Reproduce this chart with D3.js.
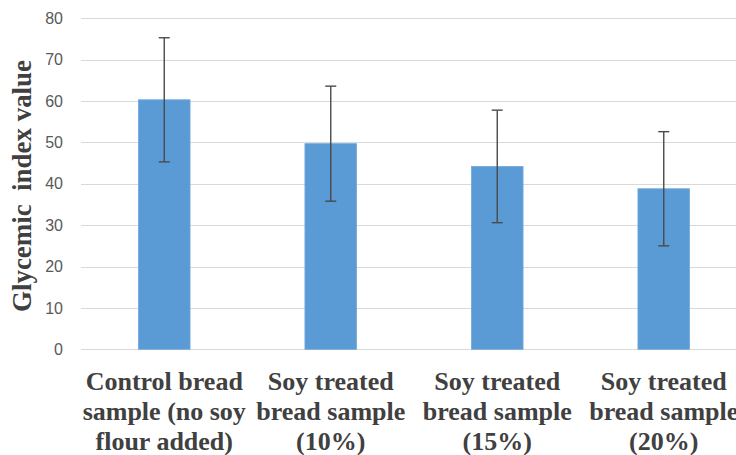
<!DOCTYPE html>
<html><head><meta charset="utf-8">
<script src="https://cdn.jsdelivr.net/npm/d3@7"></script>
<style>body{margin:0;background:#fff}svg{display:block}</style>
</head><body>
<svg id="c" width="736" height="455"></svg>
<script>
const categories = [
  ["Control bread","sample (no soy","flour added)"],
  ["Soy treated","bread sample","(10%)"],
  ["Soy treated","bread sample","(15%)"],
  ["Soy treated","bread sample","(20%)"]
];
const values = [60.3, 49.7, 44.2, 38.8];
const errors = [15.0, 13.9, 13.6, 13.8];
const yTicks = [0,10,20,30,40,50,60,70,80];
const yTitle = "Glycemic  index value";

const svg = d3.select("#c");
const x = d3.scaleBand().domain(d3.range(categories.length)).range([81, 747]).paddingInner(0.69).paddingOuter(0.345);
const y = d3.scaleLinear().domain([0, 80]).range([349.3, 18.3]);

// gridlines
svg.append("g").selectAll("line").data(yTicks).join("line")
  .attr("x1", 81).attr("x2", 736)
  .attr("y1", d => Math.round(y(d)) + 0.5).attr("y2", d => Math.round(y(d)) + 0.5)
  .attr("stroke", "#d9d9d9").attr("stroke-width", 1);

// y axis labels
const yAxis = d3.axisLeft(y).tickValues(yTicks).tickSize(0).tickPadding(0);
const gy = svg.append("g").attr("transform", "translate(63,0)").call(yAxis);
gy.select(".domain").remove();
gy.selectAll("text").attr("font-family", "Liberation Sans, Arial, sans-serif").attr("font-size", 16).attr("fill", "#595959");

// bars
svg.append("g").selectAll("rect").data(values).join("rect")
  .attr("x", (d,i) => x(i)).attr("width", x.bandwidth())
  .attr("y", d => y(d)).attr("height", d => y(0) - y(d))
  .attr("fill", "#5b9bd5").attr("stroke", "#6fa8dc").attr("stroke-width", 0.8);

// error bars
const eg = svg.append("g").attr("stroke", "#4a4a4a").attr("stroke-width", 1.4);
values.forEach((v, i) => {
  const cx = x(i) + x.bandwidth()/2;
  eg.append("line").attr("x1", cx).attr("x2", cx).attr("y1", y(v + errors[i])).attr("y2", y(v - errors[i]));
  eg.append("line").attr("x1", cx - 5.5).attr("x2", cx + 5.5).attr("y1", y(v + errors[i])).attr("y2", y(v + errors[i]));
  eg.append("line").attr("x1", cx - 5.5).attr("x2", cx + 5.5).attr("y1", y(v - errors[i])).attr("y2", y(v - errors[i]));
});

// category labels
const xl = svg.append("g");
categories.forEach((lines, i) => {
  const cx = x(i) + x.bandwidth()/2;
  lines.forEach((t, j) => {
    xl.append("text").attr("x", cx).attr("y", 390 + j*30).attr("text-anchor", "middle")
      .attr("font-family", "Liberation Serif, Times New Roman, serif").attr("font-weight", "bold")
      .attr("font-size", 26).attr("fill", "#404040").text(t);
  });
});

// y title
svg.append("text").attr("transform", "translate(31,186) rotate(-90)")
  .attr("x", -126).attr("text-anchor", "start").attr("font-family", "Liberation Serif, Times New Roman, serif")
  .attr("font-weight", "bold").attr("font-size", 28).attr("fill", "#404040")
  .attr("textLength", 252).attr("lengthAdjust", "spacingAndGlyphs")
  .style("white-space", "pre").text(yTitle);
</script>
</body></html>
